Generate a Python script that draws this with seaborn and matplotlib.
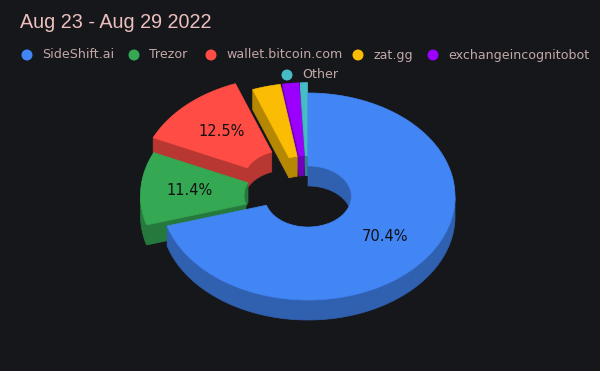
import numpy as np
import matplotlib
matplotlib.use("Agg")
import matplotlib.pyplot as plt
from matplotlib.patches import Polygon, Circle
import seaborn as sns

# ---- data ----
title = "Aug 23 - Aug 29 2022"
labels = ["SideShift.ai", "Trezor", "wallet.bitcoin.com", "zat.gg", "exchangeincognitobot", "Other"]
values = [70.4, 11.4, 12.5, 3.1, 1.8, 0.8]
colors = ["#4285F4", "#34A853", "#FF4D45", "#FBBC04", "#9B00FF", "#46BDC6"]
explode = [0.0, 0.14, 0.21, 0.10, 0.10, 0.10]

sns.set_theme(style="dark")
BG = "#16171B"
palette = sns.color_palette(colors)

fig = plt.figure(figsize=(6.0, 3.71), dpi=100, facecolor=BG)
ax = fig.add_axes([0, 0, 1, 1])
ax.set_facecolor(BG)
ax.set_xlim(0, 600)
ax.set_ylim(371, 0)
ax.axis("off")

cx, cy, rx, ry = 308.0, 196.5, 147.0, 103.5
hole = 0.295
depth = 20.0


def darken(c, f=0.72):
    return tuple(v * f for v in c)


total = float(sum(values))
fracs = [v / total for v in values]
starts = np.concatenate([[0.0], np.cumsum(fracs)[:-1]]) * 360.0
ends = np.cumsum(fracs) * 360.0


def pts(thetas, r, dx, dy, z=0.0):
    t = np.radians(thetas)
    return np.column_stack([cx + r * rx * np.sin(t) + dx, cy - r * ry * np.cos(t) + dy + z])


def intersect(a, b, c, d):
    lo, hi = max(a, c), min(b, d)
    return (lo, hi) if hi > lo else None


slices = []
for i in range(len(values)):
    s, e = starts[i], ends[i]
    mid = (s + e) / 2.0
    dx = explode[i] * rx * np.sin(np.radians(mid))
    dy = -explode[i] * ry * np.cos(np.radians(mid))
    slices.append((i, s, e, mid, dx, dy))

# back-to-front ordering
order = sorted(slices, key=lambda t: -np.cos(np.radians(t[3])))

for (i, s, e, mid, dx, dy) in order:
    top = palette[i]
    side = darken(top)
    # inner wall (visible on back half)
    for rng in [(0, 90), (270, 360)]:
        iv = intersect(s, e, *rng)
        if iv:
            th = np.linspace(iv[0], iv[1], 60)
            poly = np.vstack([pts(th, hole, dx, dy), pts(th[::-1], hole, dx, dy, depth)])
            ax.add_patch(Polygon(poly, closed=True, fc=side, ec=side, lw=0.5))
    # radial faces
    if np.sin(np.radians(s)) < -1e-6:
        poly = np.vstack([pts([s], hole, dx, dy), pts([s], 1, dx, dy),
                          pts([s], 1, dx, dy, depth), pts([s], hole, dx, dy, depth)])
        ax.add_patch(Polygon(poly, closed=True, fc=side, ec=side, lw=0.5))
    if np.sin(np.radians(e)) > 1e-6:
        poly = np.vstack([pts([e], hole, dx, dy), pts([e], 1, dx, dy),
                          pts([e], 1, dx, dy, depth), pts([e], hole, dx, dy, depth)])
        ax.add_patch(Polygon(poly, closed=True, fc=side, ec=side, lw=0.5))
    # outer wall (front half)
    iv = intersect(s, e, 90, 270)
    if iv:
        th = np.linspace(iv[0], iv[1], 120)
        poly = np.vstack([pts(th, 1, dx, dy), pts(th[::-1], 1, dx, dy, depth)])
        ax.add_patch(Polygon(poly, closed=True, fc=side, ec=side, lw=0.5))
    # top face
    th = np.linspace(s, e, max(10, int((e - s) * 2)))
    poly = np.vstack([pts(th, 1, dx, dy), pts(th[::-1], hole, dx, dy)])
    ax.add_patch(Polygon(poly, closed=True, fc=top, ec=top, lw=0.5))
    # percentage label
    if fracs[i] >= 0.05:
        p = pts([mid], 0.65, dx, dy)[0]
        ax.text(p[0] - (3 if i == 1 else 0), p[1], f"{values[i] / total * 100:.1f}%",
                ha="center", va="center", fontsize=10.5, color="#111111", family="DejaVu Sans")

# title
ax.text(20, 22, title, ha="left", va="center", fontsize=14.2, color="#EBC0BD",
        family="Liberation Sans")

# legend (marker centres as laid out in the reference)
legend_x = [27, 134, 211, 358, 433, 287]
legend_y = [55, 55, 55, 55, 55, 75]
for lab, col, lx, ly in zip(labels, colors, legend_x, legend_y):
    ax.add_patch(Circle((lx, ly), 5.5, fc=col, ec="none"))
    ax.text(lx + 15, ly, lab, ha="left", va="center", fontsize=9.1,
            color="#C2A9A8", family="DejaVu Sans")

fig.savefig("out.png", dpi=100, facecolor=BG)
